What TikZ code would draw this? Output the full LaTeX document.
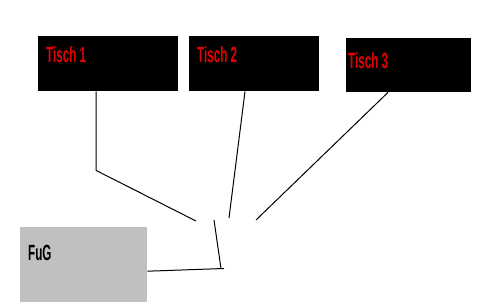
\documentclass[tikz,border=0pt]{standalone}
\usepackage{fontspec}
\usepackage{xcolor}
\usetikzlibrary{positioning}
\newfontfamily\tischfont{Liberation Sans}
\definecolor{tischred}{RGB}{230,0,0}
\definecolor{fuggray}{RGB}{192,192,192}
\newcommand{\narrowtext}[1]{\scalebox{0.53}[1]{\tischfont\bfseries\fontsize{22}{22}\selectfont #1}}

\begin{document}
\begin{tikzpicture}[
        x=1pt, y=-1pt,
        tisch/.style={rectangle, fill=black, inner sep=0pt, anchor=north west},
        fug/.style={rectangle, fill=fuggray, inner sep=0pt, anchor=north west, minimum width=127pt, minimum height=75pt},
        tag/.style={inner sep=0pt, anchor=north west, text=tischred},
        wire/.style={draw=black, line width=1pt}
    ]
        \useasboundingbox (0,0) rectangle (485,308);

        \node[tisch, minimum width=140pt, minimum height=55pt] (tisch1) at (38,36) {};
        \node[tisch, minimum width=130pt, minimum height=55pt] (tisch2) at (189,36) {};
        \node[tisch, minimum width=125pt, minimum height=54pt] (tisch3) at (346,38) {};
        \node[fug] (fugbox) at (20,227) {};

        \node[tag] (tag1) at (46,46) {\narrowtext{Tisch 1}};
        \node[tag] (tag2) at (197,46) {\narrowtext{Tisch 2}};
        \node[tag] (tag3) at (348,52) {\narrowtext{Tisch 3}};
        \node[tag, text=black] (tagfug) at (28,245) {\narrowtext{FuG}};

        \coordinate (end1) at (196,221);
        \coordinate (end2) at (229,218);
        \coordinate (end3) at (256,220);
        \coordinate (end4) at (214,220);
        \coordinate (knot) at (221,268.5);
        \coordinate (fugend) at (224,268.5);

        \draw[wire] ([xshift=58pt]tisch1.south west) -- ++(0,79) -- (end1);
        \draw[wire] ([xshift=56pt]tisch2.south west) -- (end2);
        \draw[wire] ([xshift=42pt]tisch3.south west) -- (end3);
        \draw[wire] (end4) -- (knot);
        \draw[wire] ([yshift=-6.5pt]fugbox.east) -- (fugend);
    \end{tikzpicture}
\end{document}
